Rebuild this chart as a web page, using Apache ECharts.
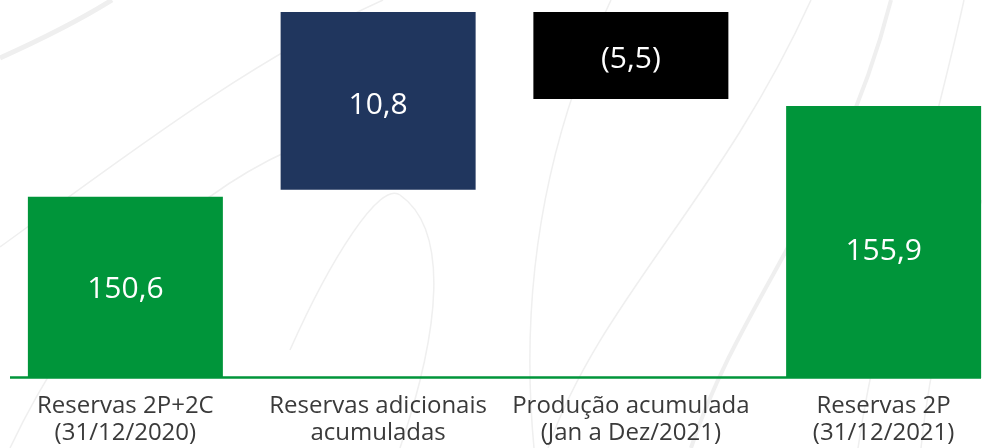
<!DOCTYPE html>
<html>
<head>
<meta charset="utf-8">
<script src="https://cdn.jsdelivr.net/npm/echarts@6/dist/echarts.min.js"></script>
<style>
  html, body { margin: 0; padding: 0; background: #ffffff; }
  #chart { width: 982px; height: 448px; }
</style>
</head>
<body>
<div id="chart"></div>
<script>
// Reserve bridge: opening reserves, additions, production, closing reserves
const categories = [
  'Reservas 2P+2C\n(31/12/2020)',
  'Reservas adicionais\nacumuladas',
  'Produção acumulada\n(Jan a Dez/2021)',
  'Reservas 2P\n(31/12/2021)'
];
const stepValues = [150.6, 10.8, -5.5, 155.9];
const stepKinds = ['total', 'delta', 'delta', 'total'];

// value axis range
const axisMin = 140;
const axisMax = 162;

// styles
const barColors = ['#00953a', '#20365e', '#000000', '#00953a'];
const labelNudge = [2, 5, 4, 9];   // px below the bar's middle
const FONT = '"Open Sans", "Noto Sans", sans-serif';
const BAR_WIDTH = 195;
const JOIN_GAP = 7;

// build the floating segments from the running total
const segments = [];
let running = 0;
stepValues.forEach(function (v, i) {
  let low, high;
  if (stepKinds[i] === 'total') {
    low = axisMin; high = v; running = v;
  } else {
    const next = running + v;
    low = Math.min(running, next); high = Math.max(running, next);
    running = next;
  }
  segments.push([i, low, high, v]);
});

function fmt(v) {
  const s = Math.abs(v).toFixed(1).replace('.', ',');
  return v < 0 ? '(' + s + ')' : s;
}

const chart = echarts.init(document.getElementById('chart'));

chart.setOption({
  backgroundColor: '#ffffff',
  animation: false,
  grid: {
    left: -1, width: 1011, top: 1.8, height: 376.2,
    containLabel: false,
    outerBoundsMode: 'none'
  },
  xAxis: {
    type: 'category',
    data: categories,
    axisLine: { show: false },
    axisTick: { show: false },
    axisLabel: {
      interval: 0,
      margin: 15,
      color: '#3a3a3a',
      fontSize: 24,
      lineHeight: 27,
      fontFamily: FONT
    }
  },
  yAxis: {
    type: 'value',
    min: axisMin,
    max: axisMax,
    show: false,
    splitLine: { show: false }
  },
  series: [{
    type: 'custom',
    data: segments,
    encode: { x: 0, y: [1, 2] },
    renderItem: function (params, api) {
      const idx = api.value(0);
      const low = api.value(1);
      const high = api.value(2);
      const val = api.value(3);
      const top = api.coord([idx, high]);
      const bottom = api.coord([idx, low]);
      let yBottom = bottom[1];
      if (stepKinds[idx] === 'delta') yBottom -= JOIN_GAP;
      const x = top[0] - BAR_WIDTH / 2;
      const h = yBottom - top[1];
      return {
        type: 'group',
        children: [{
          type: 'rect',
          shape: { x: x, y: top[1], width: BAR_WIDTH, height: h },
          style: { fill: barColors[idx] }
        }, {
          type: 'text',
          style: {
            text: fmt(val),
            x: top[0],
            y: top[1] + h / 2 + labelNudge[idx],
            align: 'center',
            verticalAlign: 'middle',
            fill: '#ffffff',
            fontSize: 30,
            fontFamily: FONT
          }
        }]
      };
    }
  }]
});

// baseline rule and faint decorative swooshes behind the bars
const baseY = chart.convertToPixel({ yAxisIndex: 0 }, axisMin) - 0.5;
const swoosh = function (pts, w) {
  return {
    type: 'bezierCurve', z: -10, silent: true,
    shape: { x1: pts[0], y1: pts[1], cpx1: pts[2], cpy1: pts[3], cpx2: pts[4], cpy2: pts[5], x2: pts[6], y2: pts[7] },
    style: { stroke: '#efefef', lineWidth: w, fill: null }
  };
};
chart.setOption({
  graphic: [
    swoosh([0, 58, 40, 40, 80, 20, 112, 0], 5),
    swoosh([0, 247, 120, 160, 250, 60, 383, 0], 1.5),
    swoosh([10, 448, 80, 300, 180, 200, 290, 150], 1.5),
    swoosh([290, 350, 330, 260, 380, 180, 400, 195], 1.5),
    swoosh([400, 195, 450, 230, 440, 330, 400, 448], 1.5),
    swoosh([611, 0, 540, 150, 520, 300, 534, 448], 1.5),
    swoosh([811, 0, 720, 200, 600, 300, 548, 448], 1.5),
    swoosh([891, 0, 840, 200, 740, 300, 691, 448], 4),
    swoosh([964, 0, 920, 200, 880, 300, 858, 448], 1.5),
    swoosh([982, 200, 950, 280, 930, 360, 921, 448], 1.5),
    {
      type: 'line', z: 10, silent: true,
      shape: { x1: 10, y1: baseY, x2: 981, y2: baseY },
      style: { stroke: '#00953a', lineWidth: 2.5 }
    }
  ]
});
</script>
</body>
</html>
